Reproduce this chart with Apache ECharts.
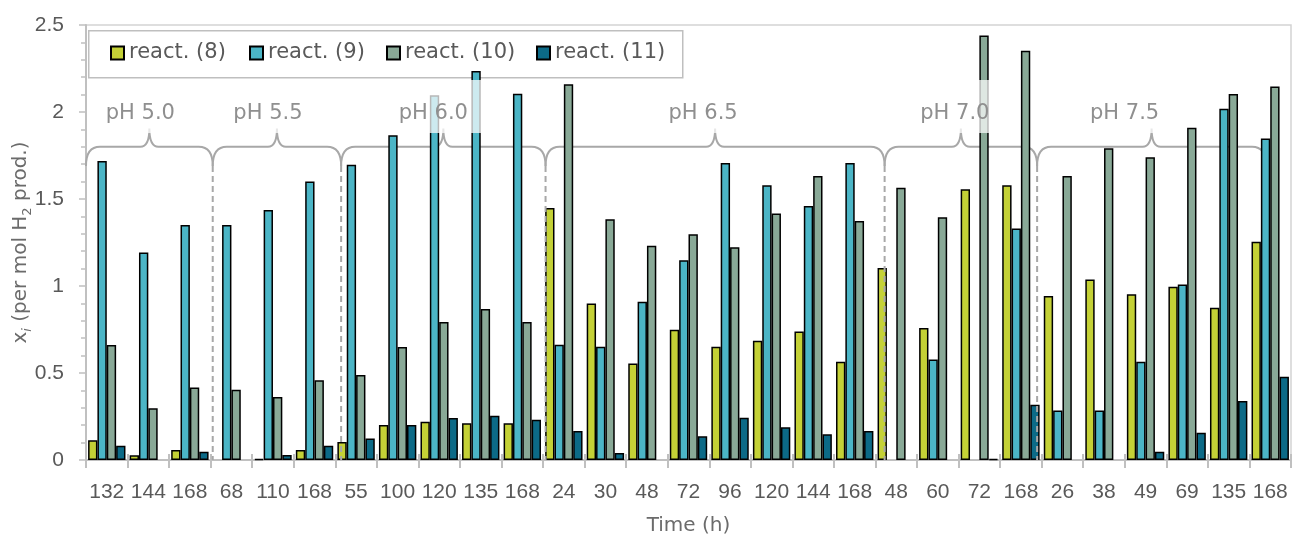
<!DOCTYPE html>
<html>
<head>
<meta charset="utf-8">
<title>Mole fractions by reactor and pH</title>
<script src="https://cdn.jsdelivr.net/npm/echarts@6/dist/echarts.min.js"></script>
<style>
  html, body { margin: 0; padding: 0; background: #fff; }
  #chart { width: 1294px; height: 540px; }
</style>
</head>
<body>
<div id="chart"></div>
<script>
// Sampling times (h), grouped by pH
const categories = ['132','144','168','68','110','168','55','100','120','135','168',
  '24','30','48','72','96','120','144','168','48','60','72','168',
  '26','38','49','69','135','168'];

const seriesNames = ['react. (8)', 'react. (9)', 'react. (10)', 'react. (11)'];

const react8 = [0.113, 0.027, 0.057, null, 0.006, 0.057, 0.103, 0.201, 0.220, 0.211, 0.211,
  1.448, 0.900, 0.554, 0.749, 0.651, 0.686, 0.739, 0.565, 1.103, 0.759, 1.556, 1.579,
  0.943, 1.038, 0.952, 0.996, 0.875, 1.255];
const react9 = [1.718, 1.193, 1.351, 1.351, 1.437, 1.600, 1.697, 1.866, 2.096, 2.236, 2.105,
  0.663, 0.651, 0.910, 1.148, 1.707, 1.579, 1.460, 1.707, null, 0.577, null, 1.330,
  0.285, 0.285, 0.565, 1.008, 2.019, 1.847];
const react10 = [0.661, 0.297, 0.416, 0.404, 0.362, 0.458, 0.489, 0.649, 0.793, 0.868, 0.793,
  2.159, 1.383, 1.232, 1.297, 1.222, 1.416, 1.632, 1.374, 1.565, 1.395, 2.440, 2.352,
  1.632, 1.791, 1.740, 1.910, 2.103, 2.147];
const react11 = [0.082, null, 0.048, null, 0.029, 0.082, 0.123, 0.201, 0.241, 0.255, 0.232,
  0.167, 0.040, null, 0.136, 0.243, 0.188, 0.148, 0.167, null, null, 0.006, 0.318,
  null, null, 0.048, 0.157, 0.339, 0.479];

const phLabels = ['pH 5.0', 'pH 5.5', 'pH 6.0', 'pH 6.5', 'pH 7.0', 'pH 7.5'];

// Brace layout: edges in category units from the left of the axis, label nudges in px
const braceEdges = [0, 3.05, 6.14, 11.06, 19.22, 22.89, 28.4];
const labelNudge = [-9, -9, -10, -12, -6, -27];
const BRACE_LINE = 1.80, BRACE_END = 1.69, BRACE_TIP = 1.905;
const LABEL_Y = 1.99, BOX_TOP = 2.184, BOX_BOTTOM = 1.879, BOX_W = 100;

const colors = ['#c4d136', '#4bb5c6', '#89a997', '#0c6a87'];
const values = [react8, react9, react10, react11];

const NUM_FONT = 'Liberation Sans';
const TXT_FONT = 'DejaVu Sans';

function edgeX(api, f) {
  const band = api.size([1, 0])[0];
  const x0 = api.coord([0, 0])[0] - band / 2;
  return x0 + f * band;
}

function renderBrace(params, api) {
  const i = params.dataIndex;
  const xa = edgeX(api, braceEdges[i]);
  const xb = edgeX(api, braceEdges[i + 1]);
  const xc = (xa + xb) / 2;
  const yL = api.coord([0, BRACE_LINE])[1];
  const yE = api.coord([0, BRACE_END])[1];
  const yT = api.coord([0, BRACE_TIP])[1];
  const r = 14, rt = 9;
  const d = `M${xa} ${yE} Q${xa} ${yL} ${xa + r} ${yL} L${xc - rt} ${yL} ` +
    `Q${xc} ${yL} ${xc} ${yT} Q${xc} ${yL} ${xc + rt} ${yL} ` +
    `L${xb - r} ${yL} Q${xb} ${yL} ${xb} ${yE}`;
  return {
    type: 'path',
    shape: { pathData: d },
    style: { stroke: '#a8a8a8', lineWidth: 2, fill: null }
  };
}

function renderOverlay(params, api) {
  const i = params.dataIndex;
  const xa = edgeX(api, braceEdges[i]);
  const xb = edgeX(api, braceEdges[i + 1]);
  const cx = (xa + xb) / 2 + labelNudge[i];
  const yTop = api.coord([0, BOX_TOP])[1];
  const yBot = api.coord([0, BOX_BOTTOM])[1];
  const yLab = api.coord([0, LABEL_Y])[1];
  const children = [];
  if (i > 0) {
    children.push({
      type: 'line',
      shape: { x1: xa, y1: api.coord([0, BRACE_END])[1], x2: xa, y2: api.coord([0, 0])[1] },
      style: { stroke: '#a8a8a8', lineWidth: 2, lineDash: [6, 4] }
    });
  }
  children.push({
    type: 'rect',
    shape: { x: cx - BOX_W / 2, y: yTop, width: BOX_W, height: yBot - yTop },
    style: { fill: 'rgba(255,255,255,0.72)' }
  });
  children.push({
    type: 'text',
    style: {
      text: phLabels[i], x: cx, y: yLab, align: 'center', verticalAlign: 'middle',
      fill: '#8f8f8f', fontSize: 21, fontFamily: TXT_FONT
    }
  });
  return { type: 'group', children: children };
}

const legendLefts = [110, 249, 386, 536];

const chart = echarts.init(document.getElementById('chart'), null, { renderer: 'canvas' });
chart.setOption({
  animation: false,
  backgroundColor: '#ffffff',
  grid: {
    left: 86, right: 3, top: 25, bottom: 80,
    outerBoundsMode: 'none',
    show: true, borderColor: '#d3d3d3', borderWidth: 1.5, backgroundColor: 'transparent'
  },
  graphic: [{
    type: 'rect', left: 88, top: 30, z: 1,
    shape: { width: 594, height: 47 },
    style: { fill: '#ffffff', stroke: '#bfbfbf', lineWidth: 1.5 }
  }],
  legend: seriesNames.map((name, k) => ({
    data: [name],
    left: legendLefts[k], top: 41,
    padding: 0, itemGap: 0,
    icon: 'rect', itemWidth: 13, itemHeight: 13,
    textStyle: { color: '#595959', fontSize: 21, fontFamily: TXT_FONT, lineHeight: 24 }
  })),
  xAxis: [{
    type: 'category',
    data: categories,
    axisLine: { lineStyle: { color: '#c0c0c0', width: 2 } },
    axisTick: { show: true, length: 8, lineStyle: { color: '#c0c0c0', width: 2 } },
    axisLabel: { interval: 0, color: '#595959', fontSize: 21, fontFamily: NUM_FONT, margin: 22 },
    splitLine: { show: false },
    name: 'Time (h)', nameLocation: 'middle', nameGap: 56,
    nameTextStyle: { color: '#6b6b6b', fontSize: 20, fontFamily: TXT_FONT }
  }, {
    type: 'category',
    data: categories,
    position: 'bottom',
    axisLine: { show: false },
    axisTick: { show: true, inside: true, length: 6, lineStyle: { color: '#c0c0c0', width: 2 } },
    axisLabel: { show: false },
    splitLine: { show: false }
  }],
  yAxis: {
    type: 'value',
    min: 0, max: 2.5, interval: 0.5,
    axisLine: { show: true, lineStyle: { color: '#c0c0c0', width: 2 } },
    axisTick: { show: true, length: 7, lineStyle: { color: '#c0c0c0', width: 1.5 } },
    minorTick: { show: true, splitNumber: 5, length: 5, lineStyle: { color: '#c0c0c0', width: 1.5 } },
    splitLine: { show: false },
    axisLabel: { color: '#595959', fontSize: 21, fontFamily: NUM_FONT, margin: 22 },
    name: '{a|x}{s|i}{a| (per mol H}{n|2}{a| prod.)}',
    nameLocation: 'middle', nameGap: 52, nameRotate: 90, nameMoveOverlap: false,
    nameTextStyle: {
      rich: {
        a: { color: '#6b6b6b', fontSize: 20, fontFamily: TXT_FONT, lineHeight: 26 },
        s: { color: '#6b6b6b', fontSize: 13, fontFamily: TXT_FONT, fontStyle: 'italic', lineHeight: 14, verticalAlign: 'bottom' },
        n: { color: '#6b6b6b', fontSize: 13, fontFamily: TXT_FONT, lineHeight: 14, verticalAlign: 'bottom' }
      }
    }
  },
  series: [
    {
      type: 'custom', name: 'braces', z: 1, silent: true,
      renderItem: renderBrace,
      data: phLabels.map((_, i) => [i, 0]),
      encode: { x: 0, y: 1 }
    },
    ...seriesNames.map((name, k) => ({
      type: 'bar', name: name, z: 2,
      data: values[k],
      barGap: '0%', barCategoryGap: '10%',
      itemStyle: { color: colors[k], borderColor: '#000000', borderWidth: 1.5 }
    })),
    {
      type: 'custom', name: 'ph-labels', z: 3, silent: true,
      renderItem: renderOverlay,
      data: phLabels.map((_, i) => [i, 0]),
      encode: { x: 0, y: 1 }
    }
  ]
});
</script>
</body>
</html>
